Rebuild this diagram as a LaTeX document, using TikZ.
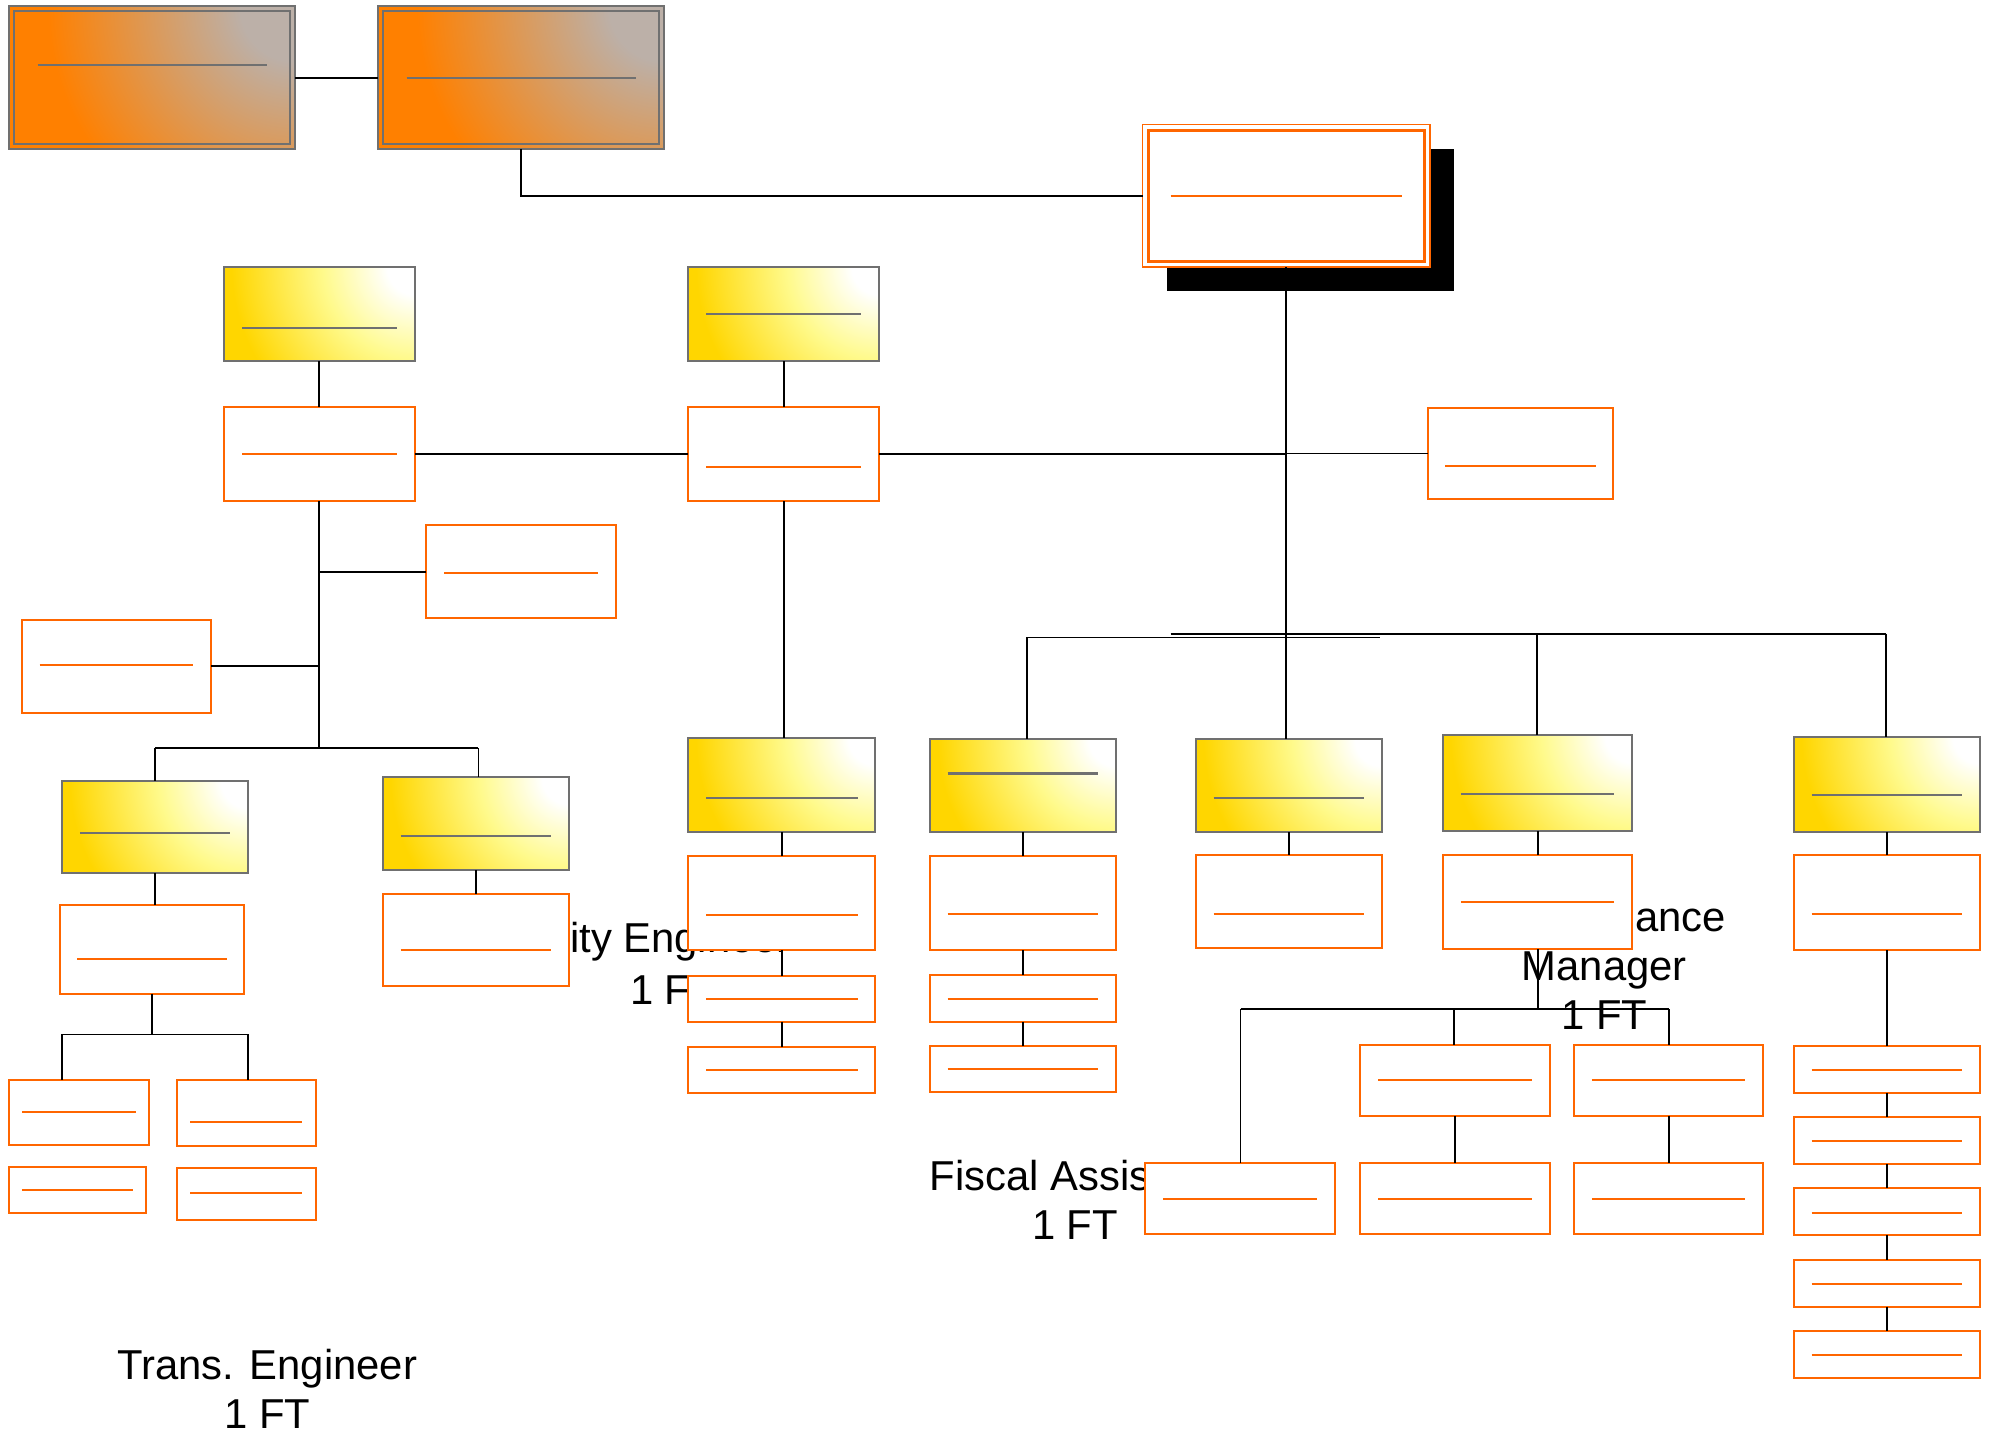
\documentclass[tikz,border=0pt]{standalone}
\usepackage{fontspec}
\setmainfont{Liberation Sans}
\usetikzlibrary{calc}
\definecolor{orng}{RGB}{255,102,0}
\definecolor{gold}{RGB}{255,214,0}
\definecolor{lemon}{RGB}{255,250,140}
\definecolor{bxgray}{RGB}{112,112,112}
\definecolor{topor}{RGB}{255,128,0}
\definecolor{topgr}{RGB}{188,176,168}
\def\unitpx{0.63615pt}
\pgfdeclareradialshading{ysh}{\pgfpoint{0bp}{0bp}}{color(0bp)=(white); color(3bp)=(white); color(10bp)=(lemon); color(20bp)=(gold); color(50bp)=(gold)}
\pgfdeclareradialshading{osh}{\pgfpoint{0bp}{0bp}}{color(0bp)=(topgr); color(4bp)=(topgr); color(18bp)=(topor); color(50bp)=(topor)}
\tikzset{
 obox/.style={draw=orng, line width=1pt, fill=white, inner sep=0pt, outer sep=0pt},
 oline/.style={draw=orng, line width=1pt},
 ybox/.style={fill=gold, inner sep=0pt, outer sep=0pt},
 ybord/.style={draw=bxgray, line width=1pt},
 gline/.style={draw=bxgray, line width=1.1pt},
 conn/.style={draw=black, line width=0.9pt},
 bus/.style={draw=black, line width=1.3pt},
 lbl/.style={font=\fontsize{20.9}{24.8}\selectfont, align=center, inner sep=0pt, text=black},
}
\newcommand{\OBX}[6]{%
 \node[obox, minimum width={(#4-#2)*\unitpx}, minimum height={(#5-#3)*\unitpx}] (#1) at ({(#2+#4)/2},{(#3+#5)/2}) {};
 \draw[oline] ({#2+0.095*(#4-#2)},#6) -- ({#4-0.095*(#4-#2)},#6);}
\newcommand{\YBX}[6]{%
 \node[ybox, minimum width={(#4-#2)*\unitpx}, minimum height={(#5-#3)*\unitpx}] (#1) at ({(#2+#4)/2},{(#3+#5)/2}) {};
 \begin{scope}\clip (#2,#3) rectangle (#4,#5);
 \shade[shading=ysh] (#4,#3) circle[radius={1.2*(#4-#2)}];
 \end{scope}
 \draw[ybord] (#1.north west) rectangle (#1.south east);
 \draw[gline] ({#2+0.095*(#4-#2)},#6) -- ({#4-0.095*(#4-#2)},#6);}
\newcommand{\TBX}[6]{%
 \node[fill=topor, inner sep=0pt, outer sep=0pt, minimum width={(#4-#2)*\unitpx}, minimum height={(#5-#3)*\unitpx}] (#1) at ({(#2+#4)/2},{(#3+#5)/2}) {};
 \begin{scope}\clip (#2,#3) rectangle (#4,#5);
 \shade[shading=osh] (#4,#3) circle[radius={1.2*(#4-#2)}];
 \end{scope}
 \draw[ybord] (#1.north west) rectangle (#1.south east);
 \draw[draw=bxgray, line width=1pt] ({#2+4},{#3+4}) rectangle ({#4-4},{#5-4});
 \draw[gline] ({#2+0.1*(#4-#2)},#6) -- ({#4-0.1*(#4-#2)},#6);}
\begin{document}
\begin{tikzpicture}[x=0.63615pt, y=-0.63615pt]
\useasboundingbox (0,0) rectangle (1568,1127);
% background texts (partly hidden by boxes)
\node[lbl] (tCity) at (523,740) {City Engineer};
\node[lbl] (tCity2) at (529,778) {1 FT};
\node[lbl, anchor=east] (tFin) at (1357,720) {Finance};
\node[lbl] (tMgr) at (1261,778.5) {Manager\\1 FT};
\node[lbl] (tFis) at (845,943) {Fiscal Assistant\\1 FT};
\node[lbl] (tTrans) at (210,1091.5) {Trans. Engineer\\1 FT};
% top
\TBX{O1}{7}{5}{232}{117}{51}
\TBX{O2}{297}{5}{522}{117}{61}
% CEO
\fill[black] (917,117) rectangle (1143,229);
\node[draw=orng, line width=0.8pt, fill=white, inner sep=0pt, outer sep=0pt, minimum width={226*\unitpx}, minimum height={112*\unitpx}] (CEO) at (1011,154) {};
\draw[orng, line width=1.5pt] (902.5,102.5) rectangle (1119.5,205.5);
\draw[oline] (920,154) -- (1102,154);
% upper rows
\YBX{Y1}{176}{210}{326}{284}{258}
\YBX{Y2}{541}{210}{691}{284}{247}
\OBX{L1}{176}{320}{326}{394}{357}
\OBX{M1}{541}{320}{691}{394}{367}
\OBX{R1}{1122}{321}{1268}{392}{366}
\OBX{L2}{335}{413}{484}{486}{450}
\OBX{L3}{17}{487}{166}{560}{523}
% left branch
\YBX{Y3}{49}{614}{195}{686}{655}
\YBX{Y4}{301}{611}{447}{684}{657}
\OBX{L4}{47}{711}{192}{781}{754}
\OBX{L5}{301}{703}{447}{775}{747}
\OBX{L6}{7}{849}{117}{900}{874}
\OBX{L7}{139}{849}{248}{901}{882}
\OBX{L8}{7}{917}{115}{953}{935}
\OBX{L9}{139}{918}{248}{959}{938}
% middle column
\YBX{Y5}{541}{580}{688}{654}{627}
\OBX{M2}{541}{673}{688}{747}{719}
\OBX{M3}{541}{767}{688}{803}{785}
\OBX{M4}{541}{823}{688}{859}{841}
% right part
\YBX{Y6}{731}{581}{877}{654}{608}
\YBX{Y7}{940}{581}{1086}{654}{627}
\YBX{Y8}{1134}{578}{1283}{653}{624}
\YBX{Y9}{1410}{579}{1556}{654}{625}
\OBX{C1}{731}{673}{877}{747}{718}
\OBX{C2}{731}{766}{877}{803}{785}
\OBX{C3}{731}{822}{877}{858}{840}
\OBX{D1}{940}{672}{1086}{745}{718}
\OBX{E1}{1134}{672}{1283}{746}{709}
\OBX{F1}{900}{914}{1049}{970}{942}
\OBX{G1}{1069}{821}{1218}{877}{849}
\OBX{H1}{1237}{821}{1386}{877}{849}
\OBX{G2}{1069}{914}{1218}{970}{942}
\OBX{H2}{1237}{914}{1386}{970}{942}
\OBX{J1}{1410}{672}{1556}{747}{718}
\OBX{J2}{1410}{822}{1556}{859}{841}
\OBX{J3}{1410}{878}{1556}{915}{897}
\OBX{J4}{1410}{934}{1556}{971}{953}
\OBX{J5}{1410}{990}{1556}{1027}{1009}
\OBX{J6}{1410}{1046}{1556}{1083}{1065}
% connectors
\draw[conn] (O1.east) -- (O2.west);
\draw[conn] (O2.south) |- (CEO.west);
\draw[conn] (CEO.south) -- (CEO.south |- Y7.north);
\draw[conn] (CEO.south |- R1.west) -- (R1.west);
\draw[conn] (M1.east) -- (CEO.south |- M1.east);
\draw[conn] (L1.east) -- (M1.west);
\draw[conn] (Y1.south) -- (L1.north);
\draw[conn] (Y2.south) -- (M1.north);
\coordinate (jL) at (251,588);
\draw[conn] (L1.south) -- (jL);
\draw[conn] (L2.west) -- (L1.south |- L2.west);
\draw[conn] (L3.east) -- (L1.south |- L3.east);
\coordinate (bL) at (122,588);
\coordinate (bR) at (376,588);
\draw[bus] (bL) -- (bR);
\draw[conn] (bL) -- (bL |- Y3.north);
\draw[conn] (bR) -- (bR |- Y4.north);
\draw[conn] (Y3.south) -- (Y3.south |- L4.north);
\draw[conn] (Y4.south) -- (Y4.south |- L5.north);
\coordinate (b6) at (49,813);
\coordinate (b7) at (195,813);
\draw[conn] (L4.south) -- (L4.south |- b6);
\draw[conn] (b6) -- (b7);
\draw[conn] (b6) -- (b6 |- L6.north);
\draw[conn] (b7) -- (b7 |- L7.north);
\draw[conn] (M1.south) -- (M1.south |- Y5.north);
\draw[conn] (Y5.south) -- (M2.north);
\draw[conn] (M2.south) -- (M3.north);
\draw[conn] (M3.south) -- (M4.north);
\coordinate (r1) at (807,501);
\coordinate (r2) at (1085,501);
\coordinate (r3) at (920,498);
\coordinate (r4) at (1482,498);
\coordinate (r8) at (1208,498);
\draw[conn] (r1) -- (r2);
\draw[conn] (r3) -- (r4);
\draw[conn] (r1) -- (r1 |- Y6.north);
\draw[conn] (r8) -- (r8 |- Y8.north);
\draw[conn] (r4) -- (r4 |- Y9.north);
\draw[conn] (Y6.south) -- (C1.north);
\draw[conn] (C1.south) -- (C2.north);
\draw[conn] (C2.south) -- (C3.north);
\draw[conn] (Y7.south) -- (D1.north);
\draw[conn] (Y8.south) -- (E1.north);
\coordinate (fb) at (975,793);
\coordinate (gb) at (1143,793);
\coordinate (hb) at (1312,793);
\draw[conn] (fb) -- (hb);
\draw[conn] (E1.south) -- (E1.south |- fb);
\draw[conn] (fb) -- (fb |- F1.north);
\draw[conn] (gb) -- (gb |- G1.north);
\draw[conn] (hb) -- (hb |- H1.north);
\draw[conn] (G1.south) -- (G2.north);
\draw[conn] (H1.south) -- (H2.north);
\draw[conn] (Y9.south) -- (J1.north);
\draw[conn] (J1.south) -- (J2.north);
\draw[conn] (J2.south) -- (J3.north);
\draw[conn] (J3.south) -- (J4.north);
\draw[conn] (J4.south) -- (J5.north);
\draw[conn] (J5.south) -- (J6.north);
\end{tikzpicture}
\end{document}
